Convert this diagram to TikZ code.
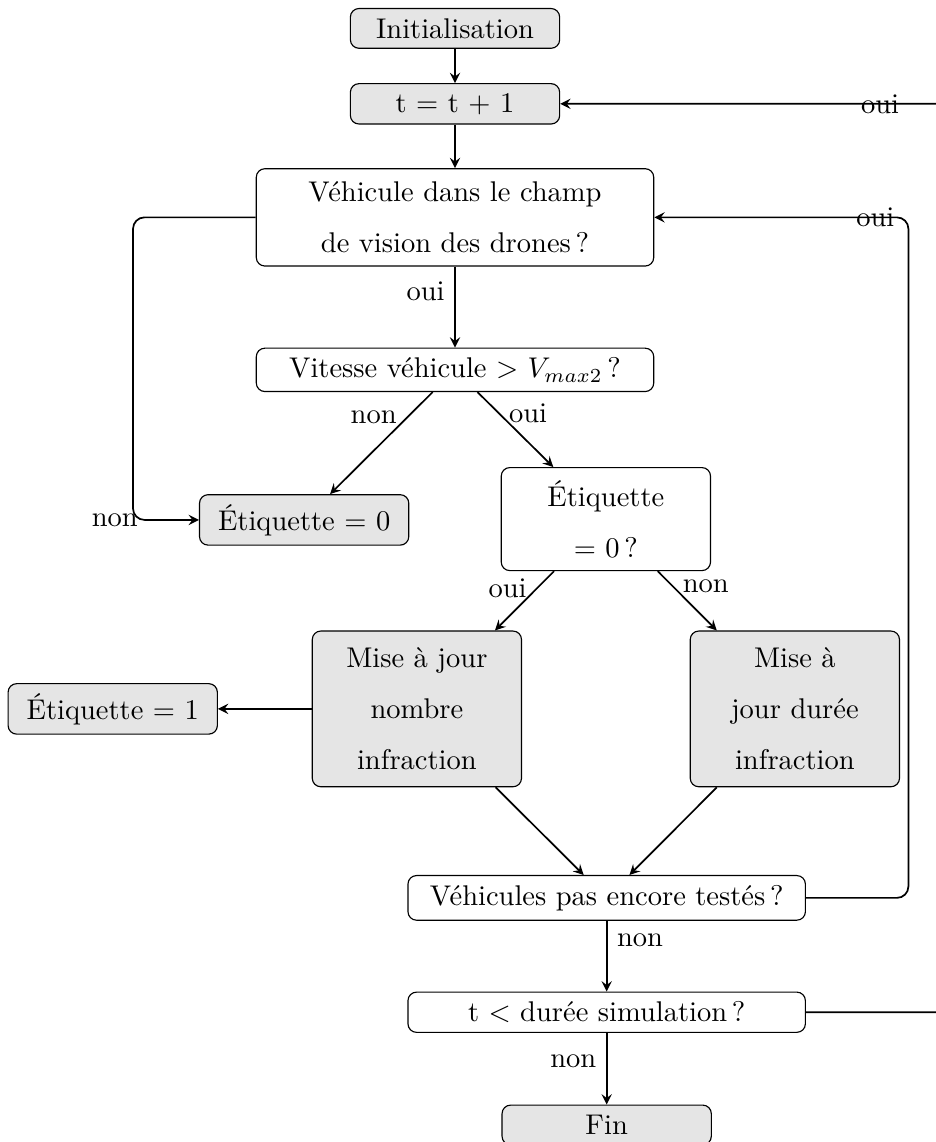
\documentclass[tikz,border=0pt]{standalone}
\usepackage{amsmath}
\usepackage{amssymb}
\usepackage{tikz}
\usepackage{xcolor}
\usetikzlibrary{positioning, arrows}

\begin{document}
\begin{tikzpicture}[
                bloc/.style={draw, rounded corners=3pt, align=center, minimum width=2.58cm, minimum height=0.49cm},
                gris/.style={bloc, fill=gray!20},
                large/.style={bloc, minimum width=4.9cm},
                fleche/.style={-stealth, semithick}
        ]
                \useasboundingbox (0, 0) rectangle (11.54, -14.08);

                \node[gris] (init) at (5.61, -0.35) {Initialisation};
                \node[gris] (t) at (5.61, -1.28) {t $=$ t $+$ 1};
                \node[large, minimum height=1.2cm] (veh) at (5.61, -2.68) {Véhicule dans le champ\\[6pt] de vision des drones\,?};
                \node[large] (vit) at (5.61, -4.56) {Vitesse véhicule $>$ $V_{max2}$\,?};
                \node[gris] (etiq0) at (3.75, -6.41) {Étiquette $=$ 0};
                \node[bloc, minimum height=1.27cm] (etiqq) at (7.47, -6.40) {Étiquette\\[6pt] $=$ 0\,?};
                \node[gris, minimum height=1.92cm] (misen) at (5.14, -8.74) {Mise à jour\\[6pt] nombre\\[6pt] infraction};
                \node[gris, minimum height=1.92cm] (mised) at (9.80, -8.74) {Mise à\\[6pt] jour durée\\[6pt] infraction};
                \node[gris] (etiq1) at (1.39, -8.74) {Étiquette $=$ 1};
                \node[large] (vpas) at (7.48, -11.07) {Véhicules pas encore testés\,?};
                \node[large] (tinf) at (7.48, -12.48) {t $<$ durée simulation\,?};
                \node[gris] (fin) at (7.48, -13.87) {Fin};

                \coordinate (bg) at (1.64, -6.41);
                \coordinate (bd) at (11.20, -2.68);
                \coordinate (bo) at (11.90, -1.28);

                \draw[fleche] (init) -- (t);
                \draw[fleche] (t) -- (veh);
                \draw[fleche] (veh) -- node[left, pos=0.3] {oui} (vit);
                \draw[fleche] (vit) -- node[left, pos=0.25] {non} (etiq0);
                \draw[fleche] (vit) -- node[right, pos=0.28] {oui} (etiqq);
                \draw[fleche] (etiqq) -- node[left, pos=0.29] {oui} (misen);
                \draw[fleche] (etiqq) -- node[right, pos=0.25] {non} (mised);
                \draw[fleche] (misen) -- (etiq1);
                \draw[fleche] (misen) -- (vpas);
                \draw[fleche] (mised) -- (vpas);
                \draw[fleche] (vpas) -- node[right, pos=0.28] {non} (tinf);
                \draw[fleche] (tinf) -- node[left, pos=0.4] {non} (fin);
                \draw[fleche, rounded corners] (veh.west) -| (bg) node[left, inner sep=0pt, xshift=0.07cm] {non} -- (etiq0.west);
                \draw[fleche, rounded corners] (vpas.east) -| (bd) -- node[pos=0.13] {oui} (veh.east);
                \draw[fleche, rounded corners] (tinf.east) -| (bo) -- node[pos=0.21] {oui} (t.east);
\end{tikzpicture}
\end{document}
